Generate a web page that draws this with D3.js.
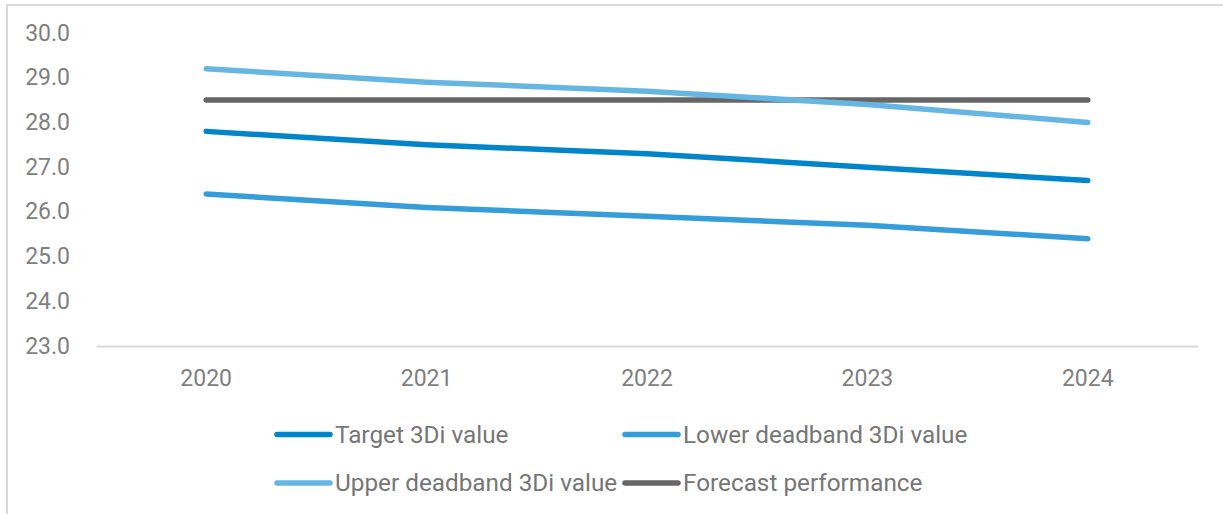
<!DOCTYPE html>
<html>
<head>
<meta charset="utf-8">
<script src="https://cdn.jsdelivr.net/npm/d3@7"></script>
<style>
  body { margin: 0; background: #fff; }
  svg { font-family: Roboto, "Noto Sans", sans-serif; }
</style>
</head>
<body>
<svg id="chart" width="1223" height="514"></svg>
<script>
// chart values
var years = ['2020', '2021', '2022', '2023', '2024'];
var targetValues = [27.8, 27.5, 27.3, 27.0, 26.7];
var lowerValues = [26.4, 26.1, 25.9, 25.7, 25.4];
var upperValues = [29.2, 28.9, 28.7, 28.4, 28.0];
var forecastValues = [28.5, 28.5, 28.5, 28.5, 28.5];
var yTicks = [23, 24, 25, 26, 27, 28, 29, 30];

var seriesList = [
  { name: 'Target 3Di value', values: targetValues, color: '#0084CA' },
  { name: 'Lower deadband 3Di value', values: lowerValues, color: '#349DDA' },
  { name: 'Upper deadband 3Di value', values: upperValues, color: '#66B6E3' },
  { name: 'Forecast performance', values: forecastValues, color: '#666666' }
];
// draw order: lower, target, forecast, upper on top
var drawOrder = [1, 0, 3, 2];

var svg = d3.select('#chart');

// outer frame (runs off the right and bottom edge)
svg.append('rect')
  .attr('x', 7).attr('y', 5)
  .attr('width', 1230).attr('height', 530)
  .attr('fill', 'none')
  .attr('stroke', '#d9d9d9')
  .attr('stroke-width', 2);

var plot = { left: 96, right: 1198, top: 33, bottom: 346 };

var x = d3.scaleBand()
  .domain(years)
  .range([plot.left, plot.right]);

var y = d3.scaleLinear()
  .domain([23, 30])
  .range([plot.bottom, plot.top]);

// y tick labels
svg.append('g')
  .selectAll('text')
  .data(yTicks)
  .enter()
  .append('text')
  .attr('x', 70)
  .attr('y', function(d) { return y(d); })
  .attr('dy', '0.33em')
  .attr('text-anchor', 'end')
  .attr('font-size', 23)
  .attr('fill', '#7f7f7f')
  .text(function(d) { return d.toFixed(1); });

// category axis
var xAxis = svg.append('g')
  .attr('transform', 'translate(0,' + plot.bottom + ')')
  .call(d3.axisBottom(x).tickSize(0).tickPadding(24));
xAxis.select('.domain').attr('stroke', '#d9d9d9').attr('stroke-width', 2);
xAxis.selectAll('text')
  .attr('font-size', 23)
  .attr('font-family', 'Roboto, sans-serif')
  .attr('fill', '#7f7f7f');

var line = d3.line()
  .x(function(d, i) { return x(years[i]) + x.bandwidth() / 2; })
  .y(function(d) { return y(d); });

svg.append('g')
  .selectAll('path')
  .data(drawOrder.map(function(i) { return seriesList[i]; }))
  .enter()
  .append('path')
  .attr('d', function(d) { return line(d.values); })
  .attr('fill', 'none')
  .attr('stroke', function(d) { return d.color; })
  .attr('stroke-width', 5.5)
  .attr('stroke-linecap', 'round')
  .attr('stroke-linejoin', 'round');

// legend, two per row
var legend = svg.append('g');
var item = legend.selectAll('.series')
  .data(seriesList)
  .enter()
  .append('g')
  .attr('class', 'series')
  .attr('transform', function(d, i) {
    var horz = 277 + (i % 2) * 348;
    var vert = 434.5 + Math.floor(i / 2) * 48.5;
    return 'translate(' + horz + ',' + vert + ')';
  });

item.append('line')
  .attr('x1', 0).attr('x2', 53)
  .attr('stroke', function(d) { return d.color; })
  .attr('stroke-width', 5.5)
  .attr('stroke-linecap', 'round');

item.append('text')
  .attr('x', 58)
  .attr('dy', '0.33em')
  .attr('font-size', 24.3)
  .attr('fill', '#767676')
  .text(function(d) { return d.name; });
</script>
</body>
</html>
